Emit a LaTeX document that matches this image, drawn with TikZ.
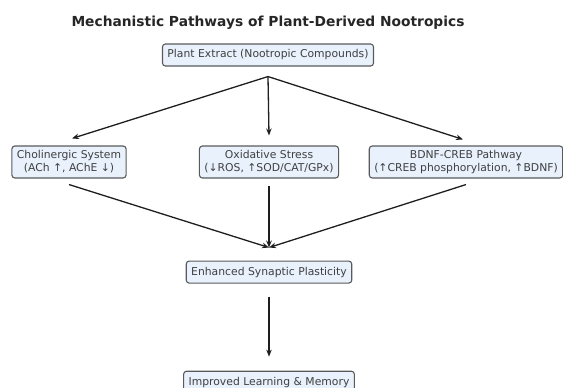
\documentclass[tikz,border=0pt]{standalone}
\usepackage{fontspec}
\setmainfont{DejaVu Sans}
\usepackage{tikz}
\usetikzlibrary{arrows.meta, positioning}
\usepackage{xcolor}
\definecolor{boxfill}{HTML}{E8F1FC}
\definecolor{boxedge}{HTML}{5A5A5A}
\definecolor{txtcol}{HTML}{404040}
\definecolor{arrcol}{HTML}{1E1E1E}
\newcommand{\pathtitle}[1]{\textcolor{black!85}{\textbf{#1}}}

\begin{document}
\begin{tikzpicture}[x=1pt, y=1pt, node distance=80pt,
      every node/.style={font=\fontsize{10.8}{13}\selectfont},
      box/.style={rounded corners=3pt, draw=boxedge, line width=1.1pt, fill=boxfill,
                  text=txtcol, align=center, inner xsep=5pt, inner ysep=3pt, minimum height=22pt},
      arr/.style={-{Stealth[length=7pt, width=5.5pt]}, line width=1.3pt, draw=arrcol}]
    \useasboundingbox (0,0) rectangle (563,-388);
    \node[font=\fontsize{13.8}{16}\selectfont] (title) at (268,-23) {\pathtitle{Mechanistic Pathways of Plant-Derived Nootropics}};
    \node[box] (plant) at (268,-55) {Plant Extract (Nootropic Compounds)};
    % middle row
    \node[box, minimum height=32pt] (chol) at (69,-162) {Cholinergic System\\(ACh ↑, AChE ↓)};
    \node[box, minimum height=32pt] (oxid) at (269,-162) {Oxidative Stress\\(↓ROS, ↑SOD/CAT/GPx)};
    \node[box, minimum height=32pt] (bdnf) at (466,-162) {BDNF-CREB Pathway\\(↑CREB phosphorylation, ↑BDNF)};
    \node[box, below=82pt of oxid] (enh) {Enhanced Synaptic Plasticity};
    \node[box, below=87pt of enh] (impr) {Improved Learning \& Memory};
    \coordinate[below=10pt of plant] (split);
    \coordinate[above=13pt of enh] (join);
    \draw[arr] (split) -- ([xshift=3pt, yshift=7pt]chol.north);
    \draw[arr] (split) -- ([yshift=10pt]oxid.north);
    \draw[arr] (split) -- ([xshift=-3pt, yshift=6pt]bdnf.north);
    \draw[arr] ([yshift=-6pt]chol.south) -- (join);
    \draw[arr] ([yshift=-7pt]oxid.south) -- (join);
    \draw[arr] ([yshift=-6pt]bdnf.south) -- (join);
    \draw[arr] ([yshift=-13pt]enh.south) -- ([yshift=14pt]impr.north);
  \end{tikzpicture}
\end{document}
